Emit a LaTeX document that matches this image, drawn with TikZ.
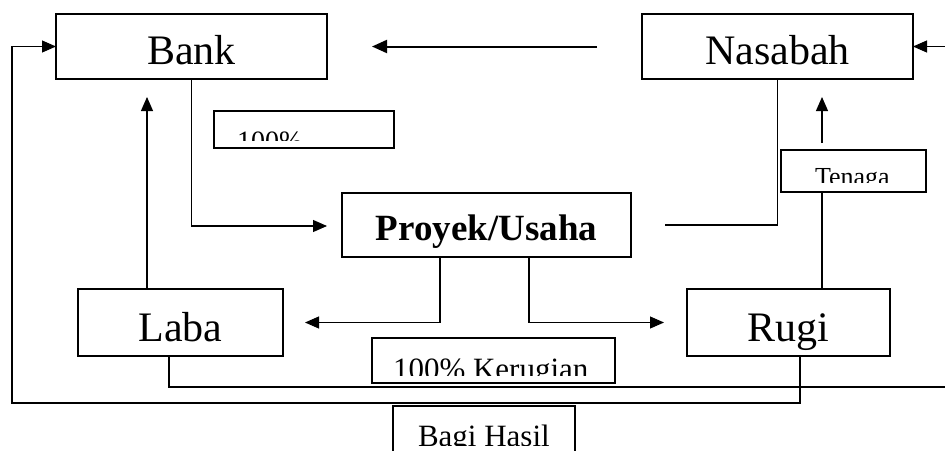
\documentclass[tikz,border=0pt]{standalone}
\usepackage{fontspec}
\setmainfont{Liberation Serif}
\usetikzlibrary{arrows.meta,calc}
\tikzset{
  bigbox/.style={draw, line width=2.2pt, inner sep=0pt, outer sep=0pt, fill=white,
    font=\fontsize{42}{50}\selectfont},
  smallbox/.style={draw, line width=1.2pt, inner sep=0pt, outer sep=0pt, fill=white},
  lbl/.style={anchor=base west, inner sep=0pt, outer sep=0pt},
  conn/.style={line width=1.1pt},
  arr/.style={conn, -{Triangle[length=14pt,width=12pt]}},
  thickarr/.style={line width=2pt, -{Triangle[length=15pt,width=13pt]}}
}
\begin{document}
\begin{tikzpicture}[x=1pt,y=-1pt]
\useasboundingbox (0,0) rectangle (945,450);
\clip (0,0) rectangle (945,450);
\fill[white] (0,0) rectangle (945,450);

% main boxes
\node[bigbox, minimum width=271pt, minimum height=65pt, text height=50pt, text depth=15pt] (bank) at (191.5,46.5) {Bank};
\node[bigbox, minimum width=271pt, minimum height=65pt, text height=50pt, text depth=15pt] (nas) at (777.5,46.5) {Nasabah};
\node[bigbox, minimum width=289pt, minimum height=64pt, text height=47pt, text depth=17pt,
  font=\fontsize{37}{44}\selectfont\bfseries] (proy) at (486.5,225) {Proyek/Usaha};
\node[bigbox, minimum width=205pt, minimum height=67pt, text height=52pt, text depth=15pt] (laba) at (180.5,322.5) {Laba};
\node[bigbox, minimum width=203pt, minimum height=67pt, text height=52pt, text depth=15pt] (rugi) at (788.5,322.5) {Rugi};

% small boxes
\node[smallbox, minimum width=180pt, minimum height=37pt] (p100) at (304,129.5) {};
\node[smallbox, minimum width=243pt, minimum height=45pt] (keru) at (493.5,360.5) {};
\node[smallbox, minimum width=182pt, minimum height=46pt] (bagi) at (484,429) {};
\node[smallbox, minimum width=145pt, minimum height=42pt] (ten) at (853.5,171) {};

% clipped texts in small boxes
\begin{scope}
  \clip (214,111) rectangle (394,140);
  \node[lbl, font=\fontsize{28}{32}\selectfont] (t100) at (237,150) {100\%};
\end{scope}
\begin{scope}
  \clip (372,338) rectangle (615,375);
  \node[lbl, font=\fontsize{31}{36}\selectfont] (tkeru) at (393,379) {100\% Kerugian};
\end{scope}
\begin{scope}
  \clip (393,406) rectangle (575,445);
  \node[lbl, font=\fontsize{31}{36}\selectfont] (tbagi) at (418,446) {Bagi Hasil};
\end{scope}
\begin{scope}
  \clip (781,150) rectangle (926,182);
  \node[lbl, font=\fontsize{26}{30}\selectfont] (tten) at (815,185) {Tenaga};
\end{scope}

% helper coordinates
\coordinate (xL) at (147,0);
\coordinate (xR) at (822,0);
\coordinate (xP1) at (440,0);
\coordinate (xP2) at (529,0);
\coordinate (xLb) at (169,0);
\coordinate (xRb) at (800,0);
\coordinate (xLeft) at (12,0);
\coordinate (offR) at (965,0);
\coordinate (yA) at (0,387);
\coordinate (yB) at (0,403);

% connectors
\draw[thickarr] ($(nas.west)+(-45,0)$) -- ($(bank.east)+(45,0)$);
\draw[arr] (bank.south) |- ($(proy.west)+(-15,1)$);
\draw[arr] (laba.north -| xL) -- ($(bank.south -| xL)+(0,18)$);
\draw[conn] ($(proy.east)+(34,0)$) -| (nas.south);
\draw[conn] (rugi.north -| xR) -- (ten.south -| xR);
\draw[arr] ($(ten.north -| xR)+(0,-7)$) -- ($(nas.south -| xR)+(0,18)$);
\draw[arr] (proy.south -| xP1) |- ($(laba.east)+(22,0)$);
\draw[arr] (proy.south -| xP2) |- ($(rugi.west)+(-23,0)$);
\draw[arr] (laba.south -| xLb) -- (xLb |- yA) -- (offR |- yA) -- (offR |- nas.east) -- (nas.east);
\draw[arr] (rugi.south -| xRb) -- (xRb |- yB) -- (xLeft |- yB) -- (xLeft |- bank.west) -- (bank.west);
\end{tikzpicture}
\end{document}
